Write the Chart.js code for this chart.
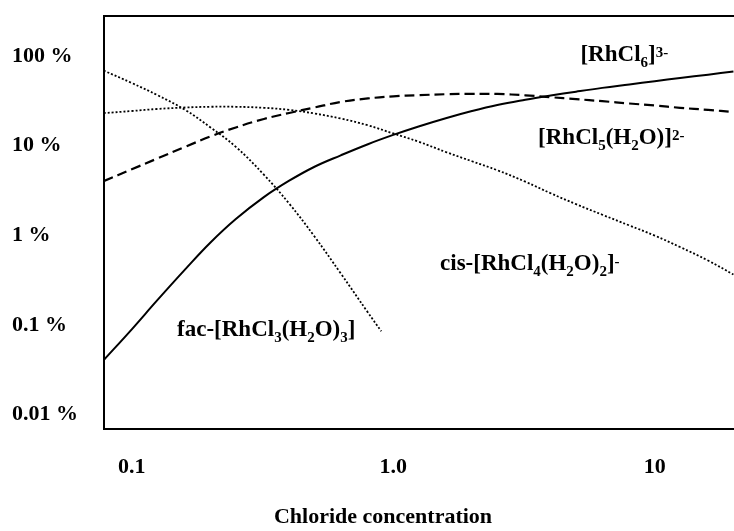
<!DOCTYPE html>
<html>
<head>
<meta charset="utf-8">
<title>Rh(III) chloro-aqua species</title>
<script src="https://cdn.jsdelivr.net/npm/chart.js@4.4.0/dist/chart.umd.min.js"></script>
<style>
  html, body { margin: 0; padding: 0; background: #fff; overflow: hidden; }
  #wrap { width: 734px; height: 531px; }
</style>
</head>
<body>
<div id="wrap"><canvas id="species-chart"></canvas></div>
<script>
// -------------------- Data --------------------
// chloride concentration (M) and share of each Rh species (%)
const clConc = [0.078, 0.1, 0.125, 0.16, 0.2, 0.25, 0.32, 0.4, 0.5, 0.63, 0.8, 1,
                1.25, 1.6, 2, 2.5, 3.2, 4, 5, 6.3, 8, 10, 12.5, 16, 20];
const rhcl6 = [0.0405, 0.0896, 0.188, 0.417, 0.832, 1.52, 2.67, 4.07, 5.83, 7.82, 10.4, 13.2,
               16.4, 20.4, 24.4, 28.5, 32.6, 36.3, 40.1, 44.2, 48.3, 52.5, 56.9, 62.1, 67.2];
const rhcl5 = [4.02, 5.46, 7.19, 9.72, 12.7, 16.0, 19.9, 23.2, 26.7, 30.8, 33.7, 35.6,
               36.6, 37.6, 37.9, 37.8, 36.5, 34.8, 33.1, 31.4, 29.6, 28.1, 26.5, 25.1, 23.8];
const cisRhcl4 = [23.1, 24.4, 25.7, 26.7, 27.2, 27.2, 26.5, 25.1, 22.9, 20.1, 16.9, 13.7,
                  11.1, 8.45, 6.71, 5.33, 3.97, 2.95, 2.23, 1.70, 1.29, 0.995, 0.741, 0.524, 0.366];
// fac isomer is only given up to ~0.9 M
const facConc = [0.078, 0.1, 0.125, 0.16, 0.2, 0.25, 0.32, 0.4, 0.5, 0.63, 0.8, 0.9];
const facRhcl3 = [69.0, 50.1, 36.8, 25.1, 16.0, 9.72, 4.75, 2.26, 0.970, 0.376, 0.138, 0.085];

const xTicks = [0.1, 1, 10];
const xTickLabels = ["0.1", "1.0", "10"];
const yTicks = [0.01, 0.1, 1, 10, 100];
const yTickLabels = ["0.01 %", "0.1 %", "1 %", "10 %", "100 %"];
const xTitle = "Chloride concentration";

// curve labels: [text, 0 = normal / 1 = subscript / -1 = superscript], anchored in data units
const speciesLabels = [
    { parts: [["[RhCl", 0], ["6", 1], ["]", 0], ["3-", -1]], x: 5.2, y: 88 },
    { parts: [["[RhCl", 0], ["5", 1], ["(H", 0], ["2", 1], ["O)]", 0], ["2-", -1]], x: 3.58, y: 10.5 },
    { parts: [["cis-[RhCl", 0], ["4", 1], ["(H", 0], ["2", 1], ["O)", 0], ["2", 1], ["]", 0], ["-", -1]], x: 1.51, y: 0.406 },
    { parts: [["fac-[RhCl", 0], ["3", 1], ["(H", 0], ["2", 1], ["O)", 0], ["3", 1], ["]", 0]], x: 0.149, y: 0.0749 }
];

const FONT = '"Liberation Serif", "Times New Roman", serif';

function points(xs, ys) {
    return xs.map((x, i) => ({ x: x, y: ys[i] }));
}

// -------------------- Label plugin --------------------
const labelPlugin = {
    id: 'speciesLabels',
    afterDraw(chart) {
        const { ctx, scales } = chart;
        ctx.save();
        ctx.fillStyle = '#000';
        ctx.textAlign = 'left';
        ctx.textBaseline = 'alphabetic';
        speciesLabels.forEach(lab => {
            let px = scales.x.getPixelForValue(lab.x);
            const py = scales.y.getPixelForValue(lab.y);
            lab.parts.forEach(([txt, shift]) => {
                ctx.font = shift ? `bold 15px ${FONT}` : `bold 23px ${FONT}`;
                const dy = shift > 0 ? 6 : (shift < 0 ? -4 : 0);
                ctx.fillText(txt, px, py + dy);
                px += ctx.measureText(txt).width;
            });
        });
        // axis caption
        ctx.font = `bold 22px ${FONT}`;
        ctx.textAlign = 'center';
        ctx.textBaseline = 'middle';
        ctx.fillText(xTitle, 383, 517);
        ctx.restore();
    }
};

// -------------------- Chart --------------------
const lineBase = { pointRadius: 0, borderColor: '#000', fill: false, tension: 0.4 };

new Chart(document.getElementById('species-chart').getContext('2d'), {
    type: 'line',
    data: {
        datasets: [
            { ...lineBase, label: '[RhCl6]3-', data: points(clConc, rhcl6), borderWidth: 2 },
            { ...lineBase, label: '[RhCl5(H2O)]2-', data: points(clConc, rhcl5), borderWidth: 2.2, borderDash: [10, 5] },
            { ...lineBase, label: 'cis-[RhCl4(H2O)2]-', data: points(clConc, cisRhcl4), borderWidth: 1.8, borderDash: [2, 2] },
            { ...lineBase, label: 'fac-[RhCl3(H2O)3]', data: points(facConc, facRhcl3), borderWidth: 1.8, borderDash: [2, 2] }
        ]
    },
    options: {
        responsive: true,
        maintainAspectRatio: false,
        animation: false,
        layout: { padding: { left: 12, top: 15, right: 0, bottom: 0 } },
        plugins: { legend: { display: false }, tooltip: { enabled: false } },
        scales: {
            x: {
                type: 'logarithmic',
                position: 'bottom',
                min: 0.0783,
                max: 20.1,
                grid: { display: false, drawTicks: false, tickLength: 0 },
                border: { display: true, color: '#000', width: 2 },
                afterBuildTicks: scale => { scale.ticks = xTicks.map(v => ({ value: v })); },
                afterFit: scale => { scale.height = 102; },
                ticks: {
                    color: '#000',
                    padding: 25,
                    maxRotation: 0,
                    autoSkip: false,
                    font: { family: FONT, size: 22, weight: 'bold' },
                    callback: (v) => xTickLabels[xTicks.indexOf(v)]
                }
            },
            xTop: {
                type: 'linear',
                position: 'top',
                min: 0, max: 1,
                grid: { display: false, drawTicks: false },
                border: { display: true, color: '#000', width: 2 },
                ticks: { display: false },
                afterFit: scale => { scale.height = 0; }
            },
            y: {
                type: 'logarithmic',
                position: 'left',
                min: 0.00692,
                max: 278.6,
                grid: { display: false, drawTicks: false, tickLength: 0 },
                border: { display: true, color: '#000', width: 2 },
                afterBuildTicks: scale => { scale.ticks = yTicks.map(v => ({ value: v })); },
                afterFit: scale => { scale.width = 92; },
                ticks: {
                    color: '#000',
                    crossAlign: 'far',
                    autoSkip: false,
                    font: { family: FONT, size: 22, weight: 'bold' },
                    callback: (v) => yTickLabels[yTicks.indexOf(v)]
                }
            }
        }
    },
    plugins: [labelPlugin]
});
</script>
</body>
</html>
